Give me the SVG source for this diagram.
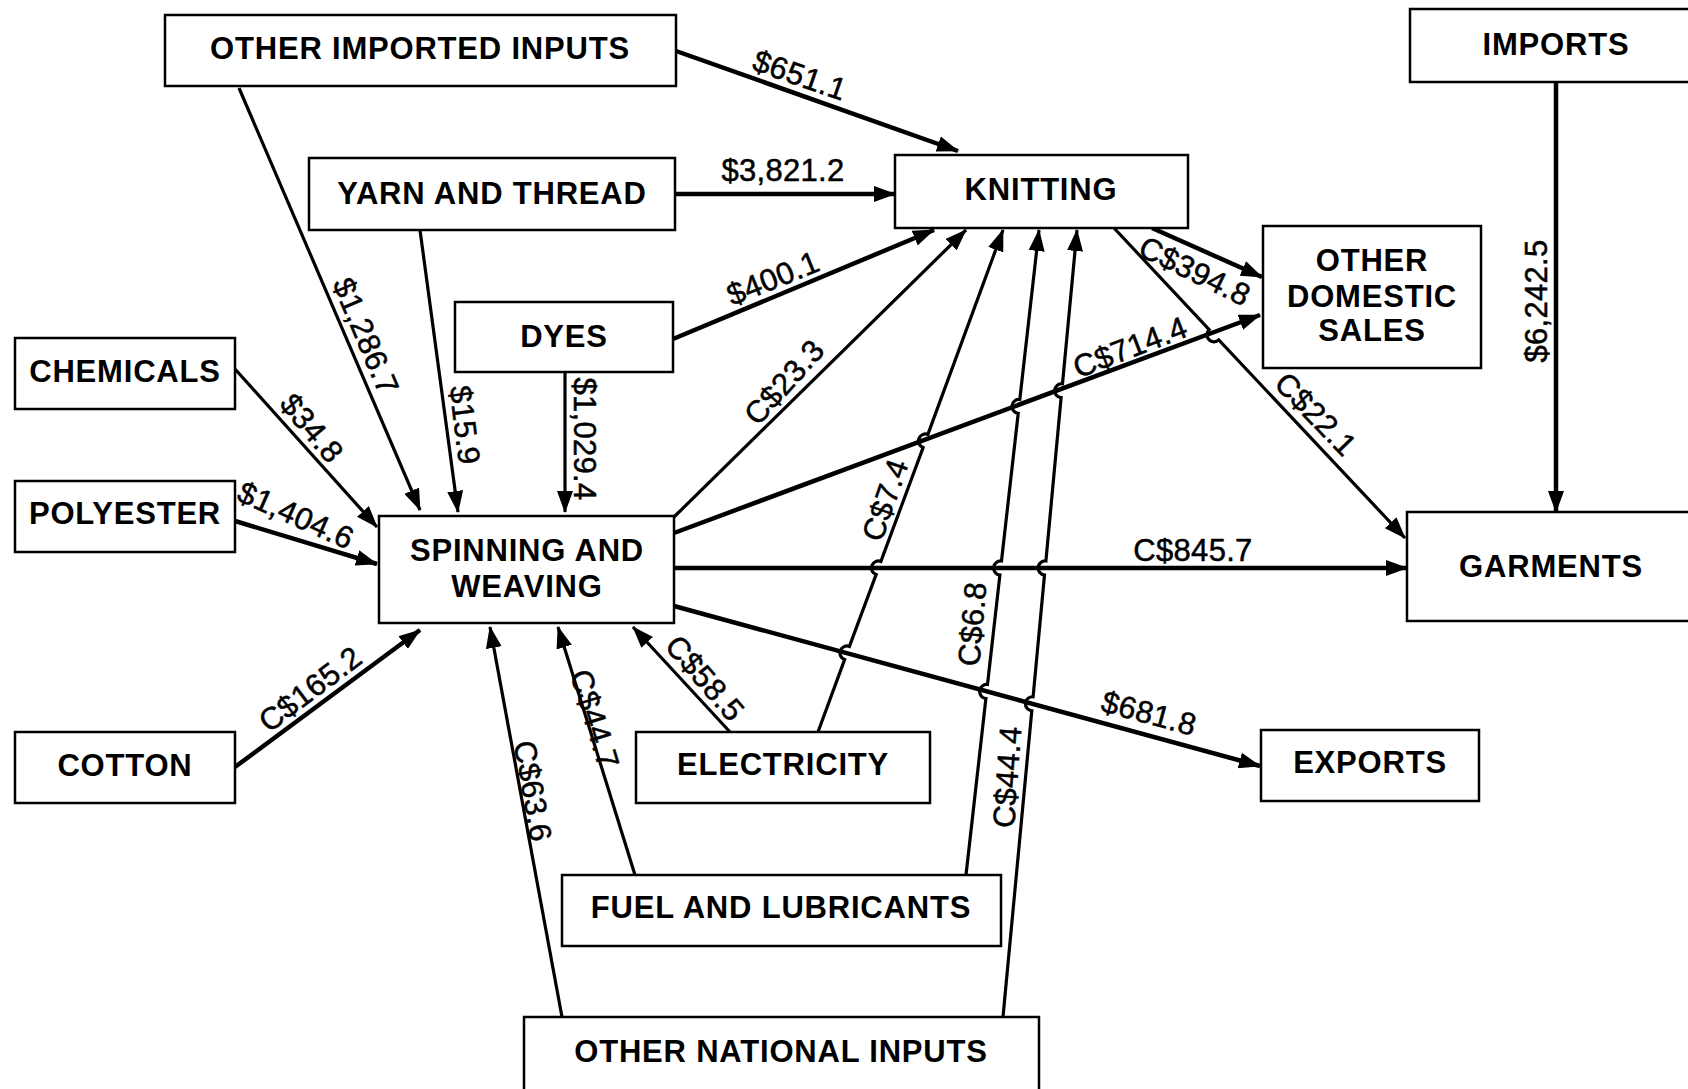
<svg xmlns="http://www.w3.org/2000/svg" width="1688" height="1089" viewBox="0 0 1688 1089">
<style>
.box{fill:#fff;stroke:#000;stroke-width:2.5}
.nt{font-family:"Liberation Sans",Arial,sans-serif;font-weight:bold;font-size:31px;letter-spacing:0.8px;text-anchor:middle;fill:#000}
.et{font-family:"Liberation Sans",Arial,sans-serif;font-size:31px;letter-spacing:0.3px;text-anchor:middle;fill:#000;stroke:#000;stroke-width:0.5}
.c{fill:none;stroke:#000;stroke-width:3.2;marker-end:url(#ah)}
.k{stroke-width:4.5}
</style>
<defs>
<marker id="ah" markerUnits="userSpaceOnUse" markerWidth="22" markerHeight="16" refX="21" refY="8" orient="auto">
<path d="M0,0 L22,8 L0,16 z" fill="#000"/>
</marker>
</defs>
<rect width="1688" height="1089" fill="#fff"/>
<g id="connectors">
<path class="c k" d="M676,51 L958,151"/>
<path class="c k" d="M675,194 L895,194"/>
<path class="c k" d="M673,339 L934,230"/>
<path class="c" d="M239,88 L420,510"/>
<path class="c" d="M420,230 L458,512"/>
<path class="c" d="M565,372 L565,512"/>
<path class="c" d="M235,369 L377,527"/>
<path class="c k" d="M235,521 L377,564"/>
<path class="c k" d="M235,767 L420,630"/>
<path class="c" d="M674,517 L966,230"/>
<path class="c" d="M818,732 L844.6,659.6 A7,7 0 0 1 849.4,646.4 L876.1,574.6 A7,7 0 0 1 880.9,561.4 L923.1,447.6 A7,7 0 0 1 927.9,434.4 L1003,230"/>
<path class="c" d="M966,875 L985.9,698.5 A7,7 0 0 1 987.5,684.5 L999.9,575 A7,7 0 0 1 1001.5,561 L1018.2,413.4 A7,7 0 0 1 1019.8,399.4 L1039,230"/>
<path class="c" d="M1003,1017 L1031.8,710.8 A7,7 0 0 1 1033.1,696.8 L1044.5,575 A7,7 0 0 1 1045.9,561 L1061.1,397.7 A7,7 0 0 1 1062.5,383.7 L1077,230"/>
<path class="c k" d="M674,533 L1260,315"/>
<path class="c k" d="M1152,228 L1262,277"/>
<path class="c" d="M1114,228 L1209.2,329.7 A7,7 0 0 0 1218.8,339.9 L1405,538"/>
<path class="c k" d="M674,568 L1407,568"/>
<path class="c k" d="M674,606 L1260,766"/>
<path class="c k" d="M1556,82 L1556,512"/>
<path class="c" d="M730,732 L633,627"/>
<path class="c" d="M635,875 L558,627"/>
<path class="c" d="M562,1017 L490,627"/>
<text class="et" transform="translate(800,75) rotate(19)" dy=".35em">$651.1</text>
<text class="et" transform="translate(783,170)" dy=".35em">$3,821.2</text>
<text class="et" transform="translate(773,278) rotate(-22)" dy=".35em">$400.1</text>
<text class="et" transform="translate(366,336) rotate(67)" dy=".35em">$1,286.7</text>
<text class="et" transform="translate(465,425) rotate(83)" dy=".35em">$15.9</text>
<text class="et" transform="translate(585,439) rotate(90)" dy=".35em">$1,029.4</text>
<text class="et" transform="translate(312,428) rotate(50)" dy=".35em">$34.8</text>
<text class="et" transform="translate(296,515) rotate(24)" dy=".35em">$1,404.6</text>
<text class="et" transform="translate(310,689) rotate(-37)" dy=".35em">C$165.2</text>
<text class="et" transform="translate(784,382) rotate(-48)" dy=".35em">C$23.3</text>
<text class="et" transform="translate(885,500) rotate(-71)" dy=".35em">C$7.4</text>
<text class="et" transform="translate(972,624) rotate(-85)" dy=".35em">C$6.8</text>
<text class="et" transform="translate(1007,777) rotate(-86)" dy=".35em">C$44.4</text>
<text class="et" transform="translate(1130,347) rotate(-21)" dy=".35em">C$714.4</text>
<text class="et" transform="translate(1195,271) rotate(26)" dy=".35em">C$394.8</text>
<text class="et" transform="translate(1316,414) rotate(46)" dy=".35em">C$22.1</text>
<text class="et" transform="translate(1193,550)" dy=".35em">C$845.7</text>
<text class="et" transform="translate(1149,713) rotate(15)" dy=".35em">$681.8</text>
<text class="et" transform="translate(1536,301) rotate(-90)" dy=".35em">$6,242.5</text>
<text class="et" transform="translate(705,678) rotate(49)" dy=".35em">C$58.5</text>
<text class="et" transform="translate(595,719) rotate(73)" dy=".35em">C$44.7</text>
<text class="et" transform="translate(533,791) rotate(80)" dy=".35em">C$63.6</text>
</g>
<g id="other-imported-inputs"><rect class="box" x="165" y="15" width="511" height="71"/><text class="nt" x="420" y="59">OTHER IMPORTED INPUTS</text></g>
<g id="yarn-and-thread"><rect class="box" x="309" y="158" width="366" height="72"/><text class="nt" x="492" y="204">YARN AND THREAD</text></g>
<g id="dyes"><rect class="box" x="455" y="302" width="218" height="70"/><text class="nt" x="564" y="347">DYES</text></g>
<g id="chemicals"><rect class="box" x="15" y="338" width="220" height="71"/><text class="nt" x="125" y="382">CHEMICALS</text></g>
<g id="polyester"><rect class="box" x="15" y="481" width="220" height="71"/><text class="nt" x="125" y="524">POLYESTER</text></g>
<g id="spinning-and-weaving"><rect class="box" x="379" y="516" width="295" height="107"/><text class="nt" x="527" y="561">SPINNING AND</text><text class="nt" x="527" y="597">WEAVING</text></g>
<g id="cotton"><rect class="box" x="15" y="732" width="220" height="71"/><text class="nt" x="125" y="776">COTTON</text></g>
<g id="knitting"><rect class="box" x="895" y="155" width="293" height="73"/><text class="nt" x="1041" y="200">KNITTING</text></g>
<g id="other-domestic-sales"><rect class="box" x="1263" y="226" width="218" height="142"/><text class="nt" x="1372" y="271">OTHER</text><text class="nt" x="1372" y="307">DOMESTIC</text><text class="nt" x="1372" y="341">SALES</text></g>
<g id="imports"><rect class="box" x="1410" y="9" width="300" height="73"/><text class="nt" x="1556" y="55">IMPORTS</text></g>
<g id="garments"><rect class="box" x="1407" y="512" width="300" height="109"/><text class="nt" x="1551" y="577">GARMENTS</text></g>
<g id="exports"><rect class="box" x="1261" y="730" width="218" height="71"/><text class="nt" x="1370" y="773">EXPORTS</text></g>
<g id="electricity"><rect class="box" x="636" y="732" width="294" height="71"/><text class="nt" x="783" y="775">ELECTRICITY</text></g>
<g id="fuel-and-lubricants"><rect class="box" x="562" y="875" width="439" height="71"/><text class="nt" x="781" y="918">FUEL AND LUBRICANTS</text></g>
<g id="other-national-inputs"><rect class="box" x="524" y="1017" width="515" height="90"/><text class="nt" x="781" y="1062">OTHER NATIONAL INPUTS</text></g>
</svg>
